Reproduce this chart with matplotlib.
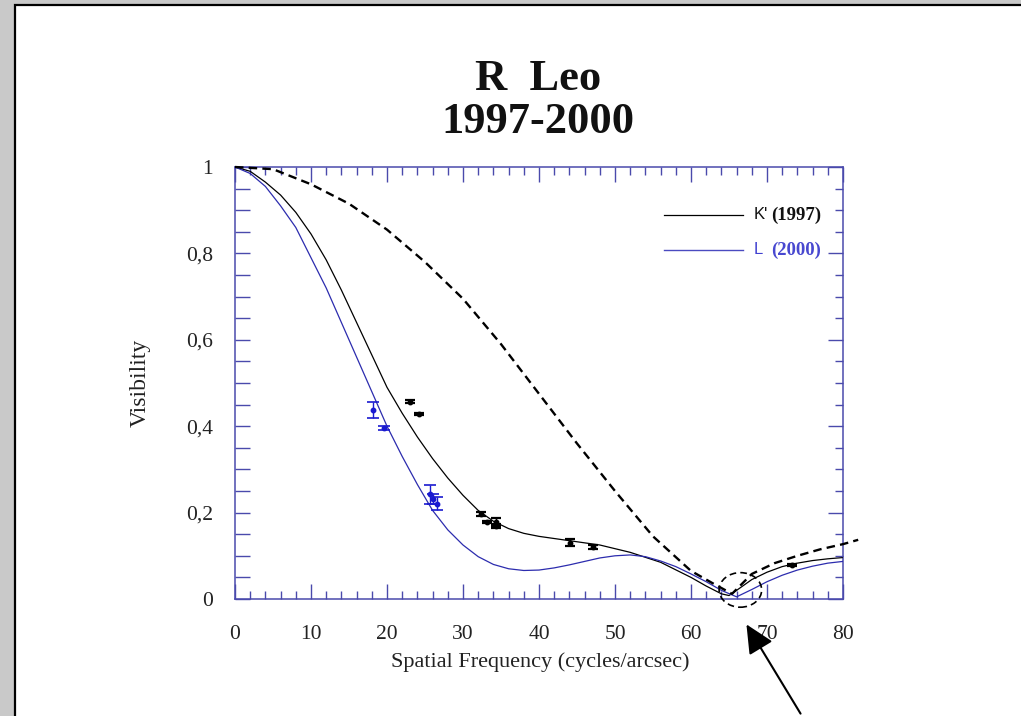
import matplotlib
matplotlib.use("Agg")
import matplotlib.pyplot as plt
from matplotlib.patches import Rectangle, Ellipse, FancyArrowPatch
from matplotlib.ticker import MultipleLocator, FuncFormatter

# ---- model curves ----
freq_k = [0, 2, 4, 6, 8, 10, 12, 14, 16, 18, 20, 22, 24, 26, 28, 30, 32, 34, 36,
          38, 40, 44, 48, 52, 56, 60, 62, 64, 65, 66, 68, 70, 72, 74, 76, 78, 80]
vis_k = [1.0, 0.99, 0.965, 0.935, 0.895, 0.845, 0.785, 0.715, 0.64, 0.565, 0.49,
         0.43, 0.375, 0.325, 0.28, 0.24, 0.205, 0.18, 0.163, 0.152, 0.145, 0.135,
         0.125, 0.108, 0.085, 0.05, 0.03, 0.012, 0.008, 0.02, 0.045, 0.062, 0.075,
         0.083, 0.089, 0.093, 0.096]

freq_l = [0, 2, 4, 6, 8, 10, 12, 14, 16, 18, 20, 22, 24, 26, 28, 30, 32, 34, 36,
          38, 40, 42, 44, 46, 48, 50, 52, 54, 56, 58, 60, 62, 64, 66, 68, 70, 72,
          74, 76, 78, 80]
vis_l = [1.0, 0.985, 0.955, 0.91, 0.86, 0.79, 0.72, 0.64, 0.56, 0.48, 0.40,
         0.33, 0.265, 0.205, 0.16, 0.125, 0.098, 0.08, 0.07, 0.066, 0.067, 0.072,
         0.079, 0.087, 0.095, 0.10, 0.102, 0.098, 0.088, 0.075, 0.058, 0.04, 0.02,
         0.005, 0.022, 0.04, 0.055, 0.067, 0.076, 0.083, 0.087]

freq_ud = [0, 5, 10, 15, 20, 25, 30, 35, 40, 45, 50, 55, 60, 63, 65.4, 68, 71,
           74, 77, 80, 82]
vis_ud = [1.0, 0.995, 0.96, 0.915, 0.855, 0.78, 0.695, 0.59, 0.475, 0.36, 0.25,
          0.145, 0.065, 0.035, 0.012, 0.058, 0.083, 0.1, 0.115, 0.127, 0.137]

# ---- measurements ----
k_freq = [23.0, 24.2, 32.4, 33.1, 34.3, 34.4, 44.1, 47.1, 73.3]
k_vis = [0.457, 0.428, 0.197, 0.178, 0.178, 0.169, 0.130, 0.120, 0.079]
k_err = [0.003, 0.003, 0.004, 0.003, 0.010, 0.004, 0.008, 0.005, 0.002]

l_freq = [18.2, 19.6, 25.6, 26.0, 26.6]
l_vis = [0.437, 0.396, 0.242, 0.232, 0.220]
l_err = [0.018, 0.004, 0.022, 0.012, 0.015]

x_ticks = [0, 10, 20, 30, 40, 50, 60, 70, 80]
y_ticks = [0, 0.2, 0.4, 0.6, 0.8, 1.0]

W, H = 1021, 716
fig = plt.figure(figsize=(W / 100, H / 100), dpi=100)
fig.patch.set_facecolor("#c9c9c9")

# white slide panel
fig.patches.append(Rectangle((15 / W, -0.05), 1.1, (H - 5) / H + 0.05,
                             transform=fig.transFigure, facecolor="white",
                             edgecolor="black", lw=1.6, zorder=-5))

serif = "Liberation Serif"
sans = "Liberation Sans"
frame_c = "#4a4aac"
blue_c = "#2c2cae"
pt_blue = "#1a1ad0"

ax = fig.add_axes([235 / W, (H - 599) / H, 608 / W, 432 / H])
ax.set_facecolor("none")
ax.set_xlim(0, 80)
ax.set_ylim(0, 1)

ax.plot(freq_k, vis_k, color="black", lw=0.9, zorder=3)
ax.plot(freq_l, vis_l, color=blue_c, lw=0.9, zorder=3)
ax.plot(freq_ud, vis_ud, color="black", lw=1.7, ls=(0, (3.6, 2.2)),
        clip_on=False, zorder=3)

ax.errorbar(k_freq, k_vis, yerr=k_err, fmt="o", ms=3.2, color="black",
            ecolor="black", elinewidth=1.0, capsize=3.5, capthick=1.6, zorder=4)
ax.errorbar(l_freq, l_vis, yerr=l_err, fmt="o", ms=3.2, color=pt_blue,
            ecolor=pt_blue, elinewidth=1.0, capsize=4.0, capthick=1.2, zorder=4)

# dashed ring round the visibility minimum
ax.add_patch(Ellipse((66.5, 0.021), 5.6, 0.080, fill=False, edgecolor="black",
                     lw=1.2, ls=(0, (4, 2.5)), clip_on=False, zorder=5))

for s in ax.spines.values():
    s.set_color(frame_c)
    s.set_linewidth(1.1)

ax.set_xticks(x_ticks)
ax.xaxis.set_minor_locator(MultipleLocator(2))
ax.set_yticks(y_ticks)
ax.yaxis.set_minor_locator(MultipleLocator(0.05))
fmt = FuncFormatter(lambda v, p: ("%g" % v).replace(".", ","))
ax.yaxis.set_major_formatter(fmt)
ax.tick_params(axis="x", which="major", direction="in", length=11, width=1.0,
               color=frame_c, top=True, bottom=True, pad=19,
               labelsize=15.5, labelfontfamily=serif, labelcolor="#222222")
ax.tick_params(axis="x", which="minor", direction="in", length=5.5, width=1.0,
               color=frame_c, top=True, bottom=True)
ax.tick_params(axis="y", which="both", direction="in", length=11, width=1.0,
               color=frame_c, left=True, right=False, pad=16,
               labelsize=15.5, labelfontfamily=serif, labelcolor="#222222")

# right-hand ticks: long majors, short minors
axr = ax.twinx()
axr.set_ylim(0, 1)
axr.set_yticks(y_ticks)
axr.yaxis.set_minor_locator(MultipleLocator(0.05))
axr.tick_params(axis="y", which="major", direction="in", length=11, width=1.0,
                color=frame_c, labelright=False)
axr.tick_params(axis="y", which="minor", direction="in", length=5.5, width=1.0,
                color=frame_c)
for s in axr.spines.values():
    s.set_visible(False)

ax.set_xlabel("Spatial Frequency (cycles/arcsec)", fontfamily=serif,
              fontsize=16, color="#222222")
ax.xaxis.set_label_coords(0.502, -0.146)
ax.xaxis.label.set_va("center")
ax.set_ylabel("Visibility", fontfamily=serif, fontsize=17, color="#222222")
ax.yaxis.set_label_coords(-0.156, 0.5)
ax.yaxis.label.set_va("center")

# legend
ax.plot([56.5, 66.8], [0.889, 0.889], color="black", lw=0.9, clip_on=False)
ax.plot([56.5, 66.8], [0.808, 0.808], color="#4a4ac0", lw=1.0, clip_on=False)
ax.text(68.2, 0.889, "K'", fontfamily=sans, fontsize=12, va="center",
        color="#111111")
ax.text(70.5, 0.889, "(1997)", fontfamily=serif, fontweight="bold",
        fontsize=13.5, va="center", color="#111111")
ax.text(68.2, 0.808, "L", fontfamily=sans, fontsize=12, va="center",
        color="#4040d0")
ax.text(70.5, 0.808, "(2000)", fontfamily=serif, fontweight="bold",
        fontsize=13.5, va="center", color="#4848d0")

# title
fig.text(538 / W, 1 - 79 / H, "R  Leo", ha="center", va="center",
         fontfamily=serif, fontweight="bold", fontsize=32, color="#111111")
fig.text(538 / W, 1 - 122 / H, "1997-2000", ha="center", va="center",
         fontfamily=serif, fontweight="bold", fontsize=32, color="#111111")

# pointer to the minimum
fig.patches.append(FancyArrowPatch((802 / W, 0.0), (745 / W, 1 - 622 / H),
                                   transform=fig.transFigure,
                                   arrowstyle="-|>,head_length=0.8,head_width=0.38",
                                   mutation_scale=22, color="black", lw=1.5,
                                   zorder=6))

fig.savefig("out.png", dpi=100, facecolor=fig.get_facecolor())
